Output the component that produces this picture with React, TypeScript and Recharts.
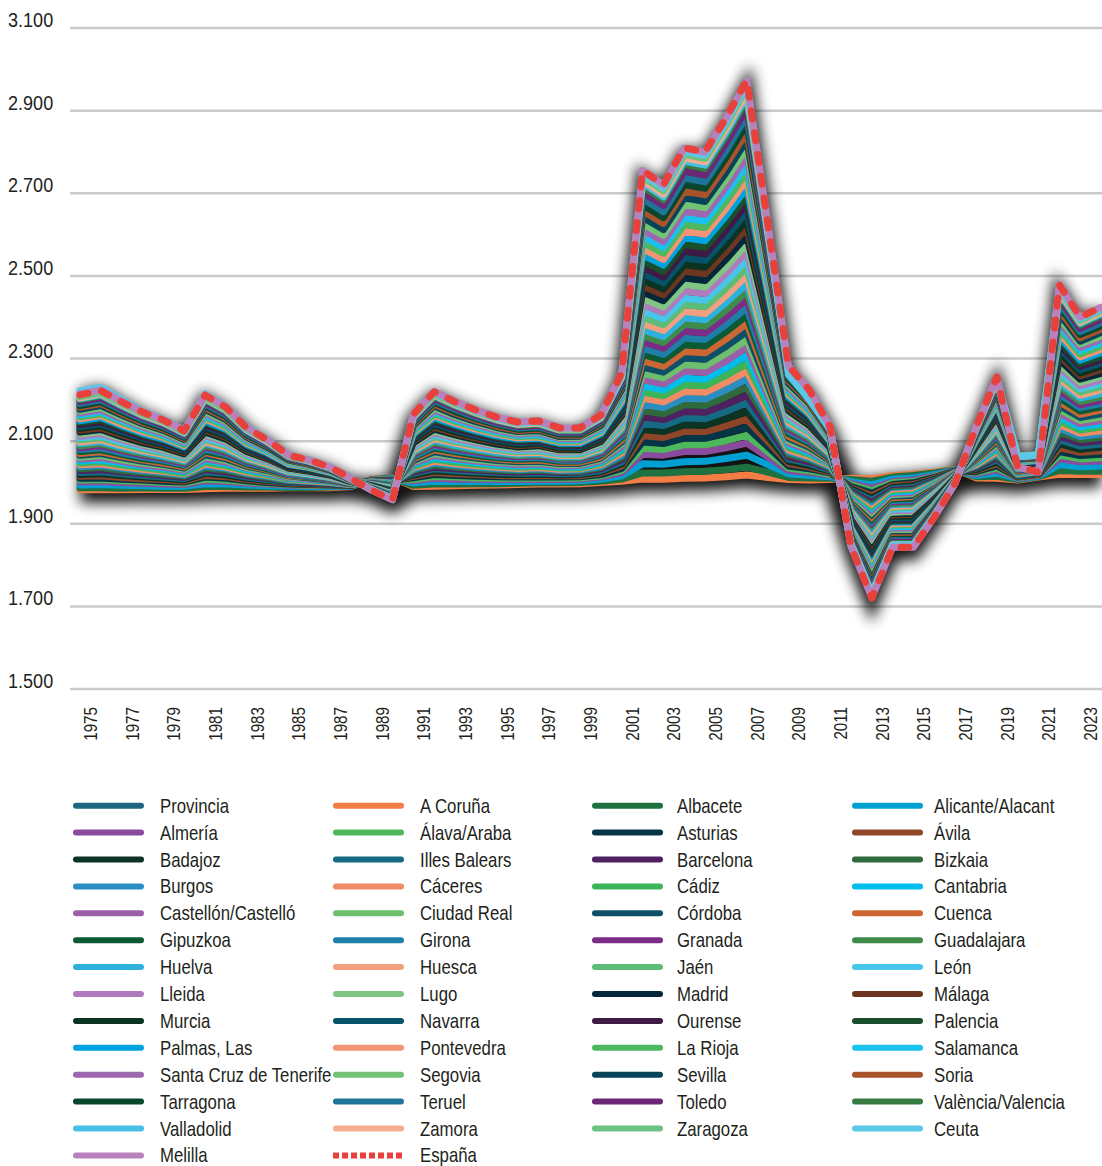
import { ComposedChart, Line, Area, XAxis, YAxis, CartesianGrid } from 'recharts'

const FONT = "'Liberation Sans', Arial, sans-serif"

const years = [
  1975, 1976, 1977, 1978, 1979, 1980, 1981, 1982, 1983, 1984, 1985, 1986, 1987, 1988, 1989, 1990, 1991, 1992,
  1993, 1994, 1995, 1996, 1997, 1998, 1999, 2000, 2001, 2002, 2003, 2004, 2005, 2006, 2007, 2008, 2009, 2010,
  2011, 2012, 2013, 2014, 2015, 2016, 2017, 2018, 2019, 2020, 2021, 2022, 2023, 2024,
]

const yTicks = [1500, 1700, 1900, 2100, 2300, 2500, 2700, 2900, 3100]

// provincias (aproximados)
const aCoruna = [1982,1982,1982,1983,1983,1983,1985,1986,1986,1986,1987,1987,1987,1990,2008,2011,1990,1991,1992,1993,1994,1995,1996,1996,1997,2000,2003,2008,2008,2010,2011,2014,2018,2012,2007,2006,2007,2010,2009,2016,2020,2025,2032,2011,2010,2006,2013,2020,2019,2019]
const albacete = [1987,1987,1986,1987,1986,1986,1990,1990,1989,1989,1988,1988,1989,1991,2007,2010,1993,1996,1996,1997,1997,1998,1999,1999,2000,2003,2008,2023,2023,2026,2027,2031,2037,2025,2012,2011,2010,2007,2003,2013,2017,2023,2031,2014,2015,2007,2014,2029,2027,2027]
const alicante = [1994,1995,1993,1992,1991,1991,1997,1996,1994,1992,1991,1990,1990,1991,2006,2009,1999,2003,2002,2002,2002,2002,2003,2003,2004,2008,2016,2045,2044,2050,2051,2058,2066,2043,2021,2017,2014,2002,1994,2008,2011,2019,2030,2017,2023,2009,2015,2043,2038,2040]
const almeria = [2001,2002,1999,1998,1996,1995,2004,2002,1998,1996,1993,1992,1992,1992,2006,2007,2004,2010,2008,2008,2007,2007,2008,2007,2008,2013,2024,2068,2066,2075,2075,2084,2095,2062,2029,2024,2018,1997,1986,2002,2006,2016,2029,2021,2030,2010,2017,2057,2050,2052]
const alava = [2006,2007,2004,2002,2000,1998,2008,2006,2001,1998,1995,1993,1993,1992,2005,2006,2007,2014,2013,2011,2010,2010,2011,2010,2011,2016,2029,2083,2080,2091,2091,2101,2114,2075,2035,2028,2020,1994,1980,1999,2002,2014,2028,2024,2035,2012,2018,2066,2057,2060]
const asturias = [2010,2011,2008,2006,2003,2001,2013,2010,2004,2000,1996,1995,1994,1993,2004,2005,2011,2019,2017,2015,2014,2013,2014,2013,2014,2019,2034,2098,2094,2107,2107,2119,2134,2087,2040,2033,2023,1990,1974,1995,1999,2012,2028,2026,2040,2013,2019,2075,2065,2068]
const avila = [2015,2016,2012,2009,2007,2003,2017,2014,2007,2003,1998,1996,1995,1993,2004,2004,2015,2024,2021,2019,2017,2016,2017,2016,2016,2023,2040,2113,2109,2123,2123,2137,2153,2100,2046,2037,2025,1987,1968,1992,1995,2010,2027,2029,2045,2014,2020,2084,2073,2076]
const badajoz = [2019,2021,2017,2013,2010,2006,2022,2018,2010,2005,2000,1998,1996,1993,2003,2003,2018,2028,2025,2022,2020,2019,2020,2018,2019,2026,2045,2128,2123,2139,2138,2154,2172,2112,2051,2041,2028,1984,1962,1988,1992,2007,2026,2031,2050,2015,2022,2094,2080,2085]
const illesBalears = [2024,2026,2021,2017,2013,2009,2026,2022,2013,2007,2001,1999,1997,1994,2003,2002,2022,2033,2029,2026,2024,2022,2023,2021,2022,2029,2050,2143,2138,2156,2154,2172,2192,2125,2057,2046,2030,1980,1957,1985,1988,2005,2026,2034,2055,2016,2023,2103,2088,2093]
const barcelona = [2029,2031,2025,2021,2017,2012,2031,2026,2016,2010,2003,2000,1998,1994,2002,2001,2025,2037,2033,2030,2027,2025,2027,2024,2025,2033,2056,2159,2152,2172,2170,2189,2211,2137,2062,2050,2033,1977,1951,1981,1984,2003,2025,2036,2060,2018,2024,2112,2096,2101]
const bizkaia = [2033,2036,2029,2024,2020,2015,2035,2030,2019,2012,2004,2002,1999,1995,2002,2000,2029,2042,2037,2033,2030,2028,2030,2027,2027,2036,2061,2174,2166,2188,2186,2207,2230,2150,2068,2055,2035,1974,1945,1978,1981,2001,2024,2039,2065,2019,2025,2121,2104,2109]
const burgos = [2038,2041,2034,2028,2024,2018,2040,2034,2022,2015,2006,2003,2000,1995,2001,1999,2032,2047,2041,2037,2034,2031,2033,2029,2030,2039,2066,2189,2181,2204,2202,2224,2250,2162,2074,2059,2038,1970,1939,1974,1977,1999,2024,2041,2070,2020,2026,2131,2111,2117]
const caceres = [2043,2045,2038,2032,2027,2021,2045,2037,2025,2017,2008,2004,2001,1995,2001,1997,2036,2051,2045,2041,2037,2034,2036,2032,2033,2043,2072,2204,2195,2220,2218,2242,2269,2174,2079,2063,2041,1967,1933,1971,1974,1996,2023,2043,2075,2021,2027,2140,2119,2125]
const cadiz = [2047,2050,2042,2036,2030,2023,2049,2041,2028,2019,2009,2006,2002,1996,2000,1996,2039,2056,2049,2044,2040,2037,2039,2035,2035,2046,2077,2219,2210,2236,2234,2259,2288,2187,2085,2068,2043,1964,1927,1967,1970,1994,2022,2046,2080,2022,2028,2149,2127,2134]
const cantabria = [2052,2055,2047,2040,2034,2026,2054,2045,2031,2022,2011,2007,2003,1996,2000,1995,2043,2060,2054,2048,2043,2040,2042,2037,2038,2049,2082,2234,2224,2252,2250,2277,2307,2199,2090,2072,2046,1960,1921,1964,1967,1992,2021,2048,2085,2024,2029,2159,2134,2142]
const castellon = [2057,2060,2051,2043,2037,2029,2058,2049,2034,2024,2012,2008,2004,1997,1999,1994,2046,2065,2058,2052,2047,2043,2045,2040,2041,2052,2087,2249,2238,2269,2266,2294,2327,2212,2096,2077,2048,1957,1916,1960,1963,1990,2021,2051,2090,2025,2030,2168,2142,2150]
const ciudadReal = [2061,2065,2055,2047,2041,2032,2063,2053,2036,2026,2014,2010,2005,1997,1999,1993,2050,2070,2062,2055,2050,2047,2048,2043,2044,2056,2093,2264,2253,2285,2282,2312,2346,2224,2101,2081,2051,1954,1910,1957,1959,1988,2020,2053,2094,2026,2032,2177,2150,2158]
const cordoba = [2066,2070,2060,2051,2044,2035,2067,2057,2039,2029,2016,2011,2005,1997,1998,1992,2053,2074,2066,2059,2053,2050,2051,2046,2046,2059,2098,2279,2267,2301,2298,2329,2365,2237,2107,2085,2053,1950,1904,1953,1956,1985,2019,2056,2099,2027,2033,2186,2157,2166]
const cuenca = [2070,2074,2064,2055,2047,2038,2072,2061,2042,2031,2017,2013,2007,1998,1997,1991,2057,2079,2070,2063,2057,2053,2054,2048,2049,2062,2103,2294,2281,2317,2314,2347,2385,2249,2112,2090,2056,1947,1898,1950,1952,1983,2019,2058,2104,2028,2034,2196,2165,2175]
const gipuzkoa = [2075,2079,2068,2058,2051,2041,2076,2065,2045,2033,2019,2014,2008,1998,1997,1990,2061,2083,2074,2066,2060,2056,2058,2051,2052,2066,2109,2310,2296,2333,2330,2365,2404,2262,2118,2094,2058,1944,1892,1946,1949,1981,2018,2061,2109,2030,2035,2205,2173,2183]
const girona = [2080,2084,2072,2062,2054,2043,2081,2069,2048,2036,2020,2015,2009,1999,1996,1989,2064,2088,2078,2070,2063,2059,2061,2054,2054,2069,2114,2325,2310,2349,2346,2382,2423,2274,2124,2099,2061,1940,1886,1943,1945,1979,2017,2063,2114,2031,2036,2214,2181,2191]
const granada = [2084,2089,2077,2066,2058,2046,2086,2073,2051,2038,2022,2017,2010,1999,1996,1988,2068,2093,2082,2074,2067,2062,2064,2057,2057,2072,2119,2340,2325,2366,2362,2400,2443,2287,2129,2103,2064,1937,1881,1939,1941,1977,2017,2066,2119,2032,2037,2223,2188,2199]
const guadalajara = [2089,2094,2081,2070,2061,2049,2090,2077,2054,2040,2024,2018,2011,1999,1995,1987,2071,2097,2086,2077,2070,2065,2067,2059,2060,2076,2125,2355,2339,2382,2378,2417,2462,2299,2135,2107,2066,1934,1875,1936,1938,1974,2016,2068,2124,2033,2038,2233,2196,2207]
const huelva = [2094,2099,2085,2074,2064,2052,2095,2081,2057,2043,2025,2019,2012,2000,1995,1986,2075,2102,2090,2081,2073,2068,2070,2062,2063,2079,2130,2370,2353,2398,2394,2435,2481,2312,2140,2112,2069,1930,1869,1932,1934,1972,2015,2071,2129,2034,2039,2242,2204,2215]
const huesca = [2098,2103,2090,2077,2068,2055,2099,2085,2060,2045,2027,2021,2013,2000,1994,1984,2078,2106,2095,2085,2077,2071,2073,2065,2065,2082,2135,2385,2368,2414,2409,2452,2501,2324,2146,2116,2071,1927,1863,1929,1931,1970,2015,2073,2134,2036,2041,2251,2211,2224]
const jaen = [2103,2108,2094,2081,2071,2058,2104,2089,2063,2048,2028,2022,2014,2001,1994,1983,2082,2111,2099,2089,2080,2074,2076,2068,2068,2085,2140,2400,2382,2430,2425,2470,2520,2337,2151,2121,2074,1923,1857,1925,1927,1968,2014,2076,2139,2037,2042,2260,2219,2232]
const leon = [2108,2113,2098,2085,2075,2061,2108,2093,2066,2050,2030,2023,2015,2001,1993,1982,2085,2116,2103,2092,2083,2077,2079,2070,2071,2089,2146,2415,2396,2446,2441,2487,2539,2349,2157,2125,2076,1920,1851,1922,1924,1966,2013,2078,2144,2038,2043,2270,2227,2240]
const lleida = [2112,2118,2103,2089,2078,2064,2113,2097,2069,2052,2032,2025,2016,2001,1993,1981,2089,2120,2107,2096,2087,2080,2082,2073,2074,2092,2151,2430,2411,2463,2457,2505,2559,2362,2162,2129,2079,1917,1846,1918,1920,1963,2013,2081,2149,2039,2044,2279,2234,2248]
const lugo = [2117,2123,2107,2093,2081,2066,2118,2101,2072,2055,2033,2026,2017,2002,1992,1980,2092,2125,2111,2100,2090,2083,2085,2076,2076,2095,2156,2445,2425,2479,2473,2522,2578,2374,2168,2134,2082,1913,1840,1915,1916,1961,2012,2083,2154,2040,2045,2288,2242,2256]
const madrid = [2122,2128,2111,2096,2085,2069,2122,2105,2075,2057,2035,2027,2018,2002,1992,1979,2096,2129,2115,2103,2093,2086,2089,2079,2079,2099,2162,2461,2440,2495,2489,2540,2597,2387,2174,2138,2084,1910,1834,1911,1913,1959,2011,2086,2159,2042,2046,2297,2250,2264]
const malaga = [2126,2132,2115,2100,2088,2072,2127,2109,2078,2059,2036,2029,2019,2003,1991,1978,2100,2134,2119,2107,2097,2089,2092,2081,2082,2102,2167,2476,2454,2511,2505,2558,2617,2399,2179,2143,2087,1907,1828,1908,1909,1957,2011,2088,2164,2043,2047,2307,2258,2273]
const murcia = [2131,2137,2120,2104,2092,2075,2131,2113,2081,2062,2038,2030,2020,2003,1990,1977,2103,2139,2123,2111,2100,2092,2095,2084,2084,2105,2172,2491,2468,2527,2521,2575,2636,2412,2185,2147,2089,1903,1822,1904,1906,1955,2010,2091,2169,2044,2048,2316,2265,2281]
const navarra = [2135,2142,2124,2108,2095,2078,2136,2117,2083,2064,2040,2032,2021,2003,1990,1976,2107,2143,2127,2114,2103,2096,2098,2087,2087,2109,2178,2506,2483,2543,2537,2593,2655,2424,2190,2151,2092,1900,1816,1901,1902,1952,2009,2093,2173,2045,2050,2325,2273,2289]
const ourense = [2140,2147,2128,2111,2098,2081,2140,2121,2086,2066,2041,2033,2022,2004,1989,1975,2110,2148,2131,2118,2107,2099,2101,2090,2090,2112,2183,2521,2497,2560,2553,2610,2675,2437,2196,2156,2094,1897,1811,1897,1898,1950,2009,2096,2178,2046,2051,2334,2281,2297]
const palencia = [2145,2152,2133,2115,2102,2084,2145,2125,2089,2069,2043,2034,2023,2004,1989,1974,2114,2152,2136,2122,2110,2102,2104,2092,2093,2115,2188,2536,2511,2576,2569,2628,2694,2449,2201,2160,2097,1893,1805,1894,1895,1948,2008,2098,2183,2048,2052,2344,2288,2305]
const palmas = [2149,2157,2137,2119,2105,2086,2149,2129,2092,2071,2044,2036,2024,2005,1988,1973,2117,2157,2140,2125,2113,2105,2107,2095,2095,2118,2193,2551,2526,2592,2585,2645,2713,2462,2207,2165,2099,1890,1799,1890,1891,1946,2007,2101,2188,2049,2053,2353,2296,2314]
const pontevedra = [2154,2162,2141,2123,2109,2089,2154,2133,2095,2074,2046,2037,2025,2005,1988,1972,2121,2162,2144,2129,2117,2108,2110,2098,2098,2122,2199,2566,2540,2608,2601,2663,2733,2474,2213,2169,2102,1887,1793,1887,1888,1944,2007,2103,2193,2050,2054,2362,2304,2322]
const laRioja = [2159,2166,2146,2127,2112,2092,2159,2136,2098,2076,2048,2038,2026,2005,1987,1970,2124,2166,2148,2133,2120,2111,2113,2100,2101,2125,2204,2581,2555,2624,2617,2680,2752,2486,2218,2173,2105,1883,1787,1883,1884,1941,2006,2105,2198,2051,2055,2372,2311,2330]
const salamanca = [2163,2171,2150,2130,2115,2095,2163,2140,2101,2078,2049,2040,2027,2006,1987,1969,2128,2171,2152,2136,2123,2114,2116,2103,2103,2128,2209,2596,2569,2640,2633,2698,2771,2499,2224,2178,2107,1880,1781,1880,1881,1939,2005,2108,2203,2052,2056,2381,2319,2338]
const santaCruz = [2168,2176,2154,2134,2119,2098,2168,2144,2104,2081,2051,2041,2028,2006,1986,1968,2131,2175,2156,2140,2126,2117,2120,2106,2106,2132,2215,2612,2583,2656,2649,2715,2790,2511,2229,2182,2110,1877,1775,1876,1877,1937,2004,2110,2208,2054,2057,2390,2327,2346]
const segovia = [2173,2181,2158,2138,2122,2101,2172,2148,2107,2083,2052,2042,2029,2007,1986,1967,2135,2180,2160,2144,2130,2120,2123,2109,2109,2135,2220,2627,2598,2673,2665,2733,2810,2524,2235,2187,2112,1873,1770,1873,1873,1935,2004,2113,2213,2055,2058,2399,2335,2354]
const sevilla = [2177,2186,2163,2142,2126,2104,2177,2152,2110,2085,2054,2044,2030,2007,1985,1966,2138,2185,2164,2147,2133,2123,2126,2111,2112,2138,2225,2642,2612,2689,2680,2750,2829,2536,2240,2191,2115,1870,1764,1869,1870,1933,2003,2115,2218,2056,2060,2409,2342,2363]
const soria = [2182,2191,2167,2145,2129,2106,2181,2156,2113,2088,2056,2045,2031,2007,1985,1965,2142,2189,2168,2151,2136,2126,2129,2114,2114,2142,2231,2657,2627,2705,2696,2768,2848,2549,2246,2195,2117,1867,1758,1866,1866,1930,2002,2118,2223,2057,2061,2418,2350,2371]
const tarragona = [2186,2195,2171,2149,2132,2109,2186,2160,2116,2090,2057,2047,2032,2008,1984,1964,2146,2194,2172,2155,2140,2129,2132,2117,2117,2145,2236,2672,2641,2721,2712,2786,2868,2561,2251,2200,2120,1863,1752,1862,1863,1928,2002,2120,2228,2058,2062,2427,2358,2379]
const teruel = [2191,2200,2176,2153,2136,2112,2190,2164,2119,2092,2059,2048,2033,2008,1983,1963,2149,2198,2177,2158,2143,2132,2135,2120,2120,2148,2241,2687,2655,2737,2728,2803,2887,2574,2257,2204,2122,1860,1746,1859,1859,1926,2001,2123,2233,2060,2063,2436,2365,2387]
const toledo = [2196,2205,2180,2157,2139,2115,2195,2168,2122,2095,2060,2049,2034,2009,1983,1962,2153,2203,2181,2162,2146,2135,2138,2122,2122,2151,2246,2702,2670,2753,2744,2821,2906,2586,2263,2209,2125,1857,1740,1855,1856,1924,2000,2125,2238,2061,2064,2446,2373,2395]
const valencia = [2200,2210,2184,2161,2143,2118,2200,2172,2125,2097,2062,2051,2035,2009,1982,1961,2156,2208,2185,2166,2150,2138,2141,2125,2125,2155,2252,2717,2684,2770,2760,2838,2926,2599,2268,2213,2128,1853,1735,1852,1852,1922,2000,2128,2243,2062,2065,2455,2381,2404]
const valladolid = [2203,2212,2186,2162,2144,2119,2202,2174,2126,2098,2063,2051,2035,2009,1982,1960,2158,2210,2187,2168,2151,2140,2143,2127,2127,2156,2254,2725,2691,2778,2768,2847,2935,2605,2271,2215,2129,1852,1732,1850,1850,1920,1999,2129,2245,2063,2066,2459,2385,2408]
const zamora = [2205,2215,2189,2164,2146,2121,2204,2176,2128,2099,2064,2052,2036,2009,1982,1960,2160,2212,2189,2169,2153,2141,2144,2128,2128,2158,2257,2732,2698,2786,2776,2856,2945,2611,2274,2217,2130,1850,1729,1848,1848,1919,1999,2130,2248,2063,2066,2464,2388,2412]
const zaragoza = [2207,2217,2191,2166,2148,2122,2206,2178,2129,2101,2064,2053,2036,2010,1982,1959,2161,2214,2191,2171,2155,2143,2146,2129,2129,2160,2260,2740,2706,2794,2784,2864,2955,2618,2276,2220,2131,1848,1726,1847,1847,1918,1999,2132,2250,2064,2067,2469,2392,2416]
const ceuta = [2222,2230,2200,2172,2152,2126,2214,2184,2134,2104,2066,2054,2037,2010,1983,1961,2164,2218,2194,2173,2156,2144,2147,2131,2131,2161,2262,2747,2713,2802,2792,2873,2964,2624,2262,2200,2128,1849,1727,1847,1847,1918,2000,2133,2253,2062,2067,2473,2396,2420]
const melilla = [2214,2224,2196,2171,2151,2126,2212,2183,2133,2103,2066,2054,2037,2010,1981,1958,2166,2220,2196,2175,2158,2146,2149,2132,2132,2163,2266,2755,2720,2809,2800,2881,2972,2630,2282,2224,2134,1845,1721,1843,1843,1916,1998,2134,2255,2037,2025,2478,2400,2424]
const espana = [2212,2222,2195,2170,2151,2125,2211,2182,2132,2103,2066,2054,2037,2010,1981,1958,2165,2219,2195,2175,2158,2146,2149,2132,2132,2163,2265,2755,2720,2810,2800,2882,2974,2630,2282,2224,2134,1845,1720,1843,1843,1916,1998,2134,2255,2037,2025,2478,2400,2424]

type Serie = { name: string; color: string; values: number[] | null; dashed?: boolean }

// orden de la leyenda (por filas)
const series: Serie[] = [
  { name: 'Provincia', color: '#1f6680', values: null },
  { name: 'A Coruña', color: '#f47c45', values: aCoruna },
  { name: 'Albacete', color: '#1f7240', values: albacete },
  { name: 'Alicante/Alacant', color: '#00a0d2', values: alicante },
  { name: 'Almería', color: '#8a4a9e', values: almeria },
  { name: 'Álava/Araba', color: '#4db85a', values: alava },
  { name: 'Asturias', color: '#053447', values: asturias },
  { name: 'Ávila', color: '#8f4527', values: avila },
  { name: 'Badajoz', color: '#0d3324', values: badajoz },
  { name: 'Illes Balears', color: '#166b84', values: illesBalears },
  { name: 'Barcelona', color: '#4f2160', values: barcelona },
  { name: 'Bizkaia', color: '#2e6a3c', values: bizkaia },
  { name: 'Burgos', color: '#2a8fc0', values: burgos },
  { name: 'Cáceres', color: '#f08c66', values: caceres },
  { name: 'Cádiz', color: '#3cb559', values: cadiz },
  { name: 'Cantabria', color: '#00bdec', values: cantabria },
  { name: 'Castellón/Castelló', color: '#9b5fa8', values: castellon },
  { name: 'Ciudad Real', color: '#6dbf6d', values: ciudadReal },
  { name: 'Córdoba', color: '#0f5068', values: cordoba },
  { name: 'Cuenca', color: '#cc6633', values: cuenca },
  { name: 'Gipuzkoa', color: '#0b5a34', values: gipuzkoa },
  { name: 'Girona', color: '#1e7fa8', values: girona },
  { name: 'Granada', color: '#7b2c87', values: granada },
  { name: 'Guadalajara', color: '#3f8c4a', values: guadalajara },
  { name: 'Huelva', color: '#2fb1dd', values: huelva },
  { name: 'Huesca', color: '#f3a080', values: huesca },
  { name: 'Jaén', color: '#5cbd78', values: jaen },
  { name: 'León', color: '#45c6ea', values: leon },
  { name: 'Lleida', color: '#b07bbd', values: lleida },
  { name: 'Lugo', color: '#80c684', values: lugo },
  { name: 'Madrid', color: '#04273a', values: madrid },
  { name: 'Málaga', color: '#6e3520', values: malaga },
  { name: 'Murcia', color: '#0b3322', values: murcia },
  { name: 'Navarra', color: '#04536a', values: navarra },
  { name: 'Ourense', color: '#3e1a44', values: ourense },
  { name: 'Palencia', color: '#1a4f2c', values: palencia },
  { name: 'Palmas, Las', color: '#00a3e0', values: palmas },
  { name: 'Pontevedra', color: '#f39574', values: pontevedra },
  { name: 'La Rioja', color: '#4cb860', values: laRioja },
  { name: 'Salamanca', color: '#1bc1ee', values: salamanca },
  { name: 'Santa Cruz de Tenerife', color: '#9e68b0', values: santaCruz },
  { name: 'Segovia', color: '#73c375', values: segovia },
  { name: 'Sevilla', color: '#07445a', values: sevilla },
  { name: 'Soria', color: '#a8532c', values: soria },
  { name: 'Tarragona', color: '#08472c', values: tarragona },
  { name: 'Teruel', color: '#1f749a', values: teruel },
  { name: 'Toledo', color: '#6c2777', values: toledo },
  { name: 'València/Valencia', color: '#367c40', values: valencia },
  { name: 'Valladolid', color: '#48bfe6', values: valladolid },
  { name: 'Zamora', color: '#f5ae91', values: zamora },
  { name: 'Zaragoza', color: '#6bc283', values: zaragoza },
  { name: 'Ceuta', color: '#5bc8e8', values: ceuta },
  { name: 'Melilla', color: '#b981bb', values: melilla },
  { name: 'España', color: '#e8413c', values: espana, dashed: true },
]

const data = years.map((year, i) => {
  const row: Record<string, number | string> = { year: String(year) }
  let lo = Infinity
  let hi = -Infinity
  series.forEach((s, k) => {
    if (!s.values) return
    row['s' + k] = s.values[i]
    lo = Math.min(lo, s.values[i])
    hi = Math.max(hi, s.values[i])
  })
  row.lo = lo
  row.hi = hi
  return row
})

const fmtThousands = (v: number) => `${Math.floor(v / 1000)}.${String(v % 1000).padStart(3, '0')}`

// texto estrecho: Liberation Sans comprimido en horizontal
const YTick = ({ y, payload }: any) => (
  <text transform={`translate(0,${y - 1}) scale(0.86,1)`} fontSize={21} fill="#231f20" fontFamily={FONT}>
    {fmtThousands(payload.value)}
  </text>
)

const XTick = ({ x, y, payload }: any) => (
  <text
    transform={`translate(${x + 17},${y + 18}) rotate(-90) scale(0.82,1)`}
    textAnchor="end"
    fontSize={18.5}
    fill="#231f20"
    fontFamily={FONT}
  >
    {payload.value}
  </text>
)

// leyenda de 4 columnas debajo del grafico
const LEG_ICON_X = [65, 325, 584, 844]
const LEG_TEXT_X = [152, 412, 669, 926]

const ChartLegend = () => (
  <svg width={1094} height={1158} style={{ position: 'absolute', left: 0, top: 0, pointerEvents: 'none' }}>
    {series.map((s, i) => {
      const col = i % 4
      const rowY = 797.7 + Math.floor(i / 4) * 26.9
      return (
        <g key={s.name}>
          {s.dashed ? (
            <line x1={LEG_ICON_X[col]} x2={LEG_ICON_X[col] + 71} y1={rowY} y2={rowY}
              stroke={s.color} strokeWidth={6} strokeDasharray="6 3" />
          ) : (
            <line x1={LEG_ICON_X[col] + 3} x2={LEG_ICON_X[col] + 68} y1={rowY} y2={rowY}
              stroke={s.color} strokeWidth={6} strokeLinecap="round" />
          )}
          <text transform={`translate(${LEG_TEXT_X[col]},${rowY + 7}) scale(0.84,1)`}
            fontSize={20} fill="#231f20" fontFamily={FONT}>
            {s.name}
          </text>
        </g>
      )
    })}
  </svg>
)

export default function App() {
  return (
    <div style={{ position: 'relative', width: 1094, height: 1158, margin: '8px 0 0 8px', fontFamily: FONT }}>
      <style>{`
        html, body { margin: 0; overflow: hidden; }
        .shadowband { filter: blur(7px); transform: translateY(6px); opacity: 0.92; }
      `}</style>
      <ComposedChart width={1094} height={760} data={data} margin={{ top: 20, right: 0, bottom: 0, left: 0 }}>
        <CartesianGrid vertical={false} stroke="#c8cacb" strokeWidth={2.5} />
        <XAxis
          dataKey="year"
          scale="point"
          padding={{ left: 10, right: 1 }}
          interval={1}
          height={79}
          axisLine={false}
          tickLine={false}
          tickSize={0}
          tickMargin={0}
          tick={<XTick />}
        />
        <YAxis
          domain={[1500, 3100]}
          ticks={yTicks}
          width={62}
          axisLine={false}
          tickLine={false}
          tick={<YTick />}
          allowDataOverflow
        />
        <Area
          dataKey={(d: any) => [d.lo, d.hi]}
          fill="#000"
          fillOpacity={1}
          stroke="#000"
          strokeWidth={14}
          className="shadowband"
          isAnimationActive={false}
          activeDot={false}
        />
        {series.map((s, k) =>
          s.values ? (
            <Line
              key={s.name}
              dataKey={'s' + k}
              name={s.name}
              type="linear"
              stroke={s.color}
              strokeWidth={7}
              strokeDasharray={s.dashed ? '8 14' : undefined}
              strokeLinecap="round"
              strokeLinejoin="round"
              dot={false}
              activeDot={false}
              isAnimationActive={false}
            />
          ) : null,
        )}
      </ComposedChart>
      <ChartLegend />
    </div>
  )
}
